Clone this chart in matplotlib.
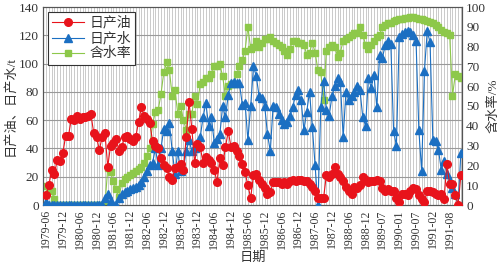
import numpy as np
import matplotlib
matplotlib.use("Agg")
import matplotlib.pyplot as plt

plt.rcParams['font.family'] = ['Liberation Serif', 'Noto Sans CJK SC', 'DejaVu Sans']
plt.rcParams['axes.unicode_minus'] = False

# 日产油 (t), 按月
oil = [7, 14, 25, 22, 32, 31, 37, 49, 49, 61, 60, 63, 61, 62, 62, 63, 64, 51, 48, 39, 48, 51, 27,
       42, 44, 47, 38, 41, 48, 49, 47, 45, 48,
       59, 69, 63, 61, 58, 45, 42, 40, 33, 28, 26, 20, 18, 26, 27, 29, 25, 48, 73, 54, 30, 43, 41,
       30, 34, 32, 30, 25, 16, 33, 28, 41, 52, 41, 42, 38, 35, 29, 23, 14, 5,
       21, 22, 18, 15, 12, 8, 9, 16, 16, 16, 15, 16, 15, 17, 18, 17, 18, 18, 17, 17, 15, 13, 10, 5, 5,
       5, 21, 20, 22, 27, 22, 20, 17, 13, 10, 8, 13, 12, 14, 20, 18, 16, 17, 17, 18, 17, 12, 10, 11, 10,
       10, 5, 2, 8, 8, 7, 10, 12, 11, 7, 4, 2, 10, 10, 9, 8, 7, 8, 4, 29, 15, 15, 7, 0, 21]

# 日产水 (t)
water = [2] + [0] * 20 + \
        [5, 8, 3, 0, 0, 5, 8, 9, 10, 11, 12, 13] + \
        [14, 16, 20, 24, 28, 30, 40, 28, 40, 54, 52, 58, 38, 22, 38, 24, 26, 38, 46, 38,
         40, 44, 48, 62, 72, 56, 62, 44, 47, 50, 70, 62, 78, 86, 87, 86, 86, 71, 72, 46] + \
        [70, 98, 91, 77, 76, 70, 50, 38, 70, 69, 64, 60, 57, 59, 63, 69, 78, 81, 74, 53,
         66, 80, 55, 28, 0, 69, 88, 67, 63, 77, 84, 90, 87, 48, 80, 74, 77, 80, 84, 81,
         62, 56, 90, 83, 92, 69, 106, 104, 113, 116, 114, 52, 42, 119, 121, 122, 123, 122, 120, 116,
         53, 24, 95, 123, 115] + \
        [46, 45, 39, 25, 31, 22, 17, 12, 8, 0, 37]

# 含水率 (%)
wcut = [9.5, 8.5, 7, 3] + [0] * 18 + \
       [18.5, 16.5, 12, 8, 4, 11, 13, 14, 15, 16, 17, 18, 19, 21, 25, 29, 41, 47, 48, 56,
        67, 72, 68, 55, 58, 46, 50, 43, 38, 46, 46, 55, 51, 61, 62, 64, 64, 66, 70, 70,
        71, 65, 55, 60, 61, 61, 66, 70, 73, 78, 90] + \
       [79, 80, 83, 80, 82, 84, 84, 85, 83, 82, 81, 80, 78, 76, 79, 83, 83, 82, 82, 81, 76, 77,
        82, 77, 68, 67, 53, 78, 80, 81, 80, 75, 77, 83, 84, 85, 86, 87, 87, 90, 86, 81,
        79, 81, 83, 85, 86, 90, 91, 92, 92, 93, 93.5, 94, 94, 94.5, 94.5, 95, 95, 94.5, 94, 94,
        93.5, 93, 92.5, 92, 91, 90, 88.5, 87.5, 87, 86, 55, 66, 65, 64]

tick_labels = ['1979-06', '1979-12', '1980-06', '1980-12', '1981-06', '1981-12',
               '1982-06', '1982-12', '1983-06', '1983-12', '1984-06', '1984-12',
               '1985-06', '1985-12', '1986-06', '1986-12', '1987-06', '1987-12',
               '1988-06', '1988-12', '1989-07', '1990-01', '1990-07', '1991-02', '1991-08']

red = '#e8131b'
blue = '#1b6fc2'
green = '#8dc84a'
txt = '#333333'

fig = plt.figure(figsize=(4.99, 2.68), dpi=100)
fig.subplots_adjust(left=43/499, right=462/499, top=1-7/268, bottom=1-205/268)
ax = fig.add_subplot(111)
ax2 = ax.twinx()

n = len(oil)
ax.set_xlim(-1.1, 148.4)
ax.set_ylim(0, 140)
ax2.set_ylim(0, 100)

ax.set_xticks(np.arange(0, 6 * len(tick_labels), 6))
ax.set_xticklabels(tick_labels, rotation=90, fontsize=8.5, color=txt)
ax.set_yticks(np.arange(0, 141, 20))
ax2.set_yticks(np.arange(0, 101, 10))
ax.tick_params(axis='y', labelsize=9.5, colors=txt, length=0, pad=3)
ax2.tick_params(axis='y', labelsize=9.5, colors=txt, length=0, pad=3)
ax.tick_params(axis='x', which='both', length=0, pad=3)

for a in (ax, ax2):
    for s in a.spines.values():
        s.set_color('#555555')
        s.set_linewidth(0.8)

# 网格画在底层 (ax2), 曲线在上
ax2.vlines(np.arange(0, 149), 0, 100, colors='#c2c2c2', lw=0.6, zorder=0.5)
for yv in np.arange(20, 140, 20):
    ax2.axhline(yv * 100 / 140, color='#9a9a9a', lw=0.8, zorder=0.6)

# 含水率 在右轴
l3, = ax2.plot(range(len(wcut)), wcut, color=green, lw=0.8, marker='s', ms=5,
               mfc=green, mec=green, label='含水率', zorder=2)
ax.set_zorder(ax2.get_zorder() + 1)
ax.patch.set_visible(False)
l2, = ax.plot(range(len(water)), water, color=blue, lw=0.8, marker='^', ms=6,
              mfc=blue, mec=blue, label='日产水', zorder=3)
l1, = ax.plot(range(n), oil, color=red, lw=0.8, marker='o', ms=5.5,
              mfc=red, mec=red, label='日产油', zorder=4)

leg = ax.legend(handles=[l1, l2, l3], loc='upper left', fontsize=10,
                frameon=True, fancybox=False, edgecolor='#333333', framealpha=1,
                handlelength=2.3, handletextpad=0.4, borderpad=0.3, labelspacing=0.15,
                borderaxespad=0.35)
leg.get_frame().set_linewidth(0.8)
for t in leg.get_texts():
    t.set_color(txt)

ax.set_ylabel('日产油、日产水/t', fontsize=9.5, color=txt, labelpad=2)
ax2.set_ylabel('含水率/%', fontsize=9.5, color=txt, labelpad=1)
ax.set_xlabel('日期', fontsize=9.5, color=txt, labelpad=2)

fig.savefig('out.png', dpi=100)
